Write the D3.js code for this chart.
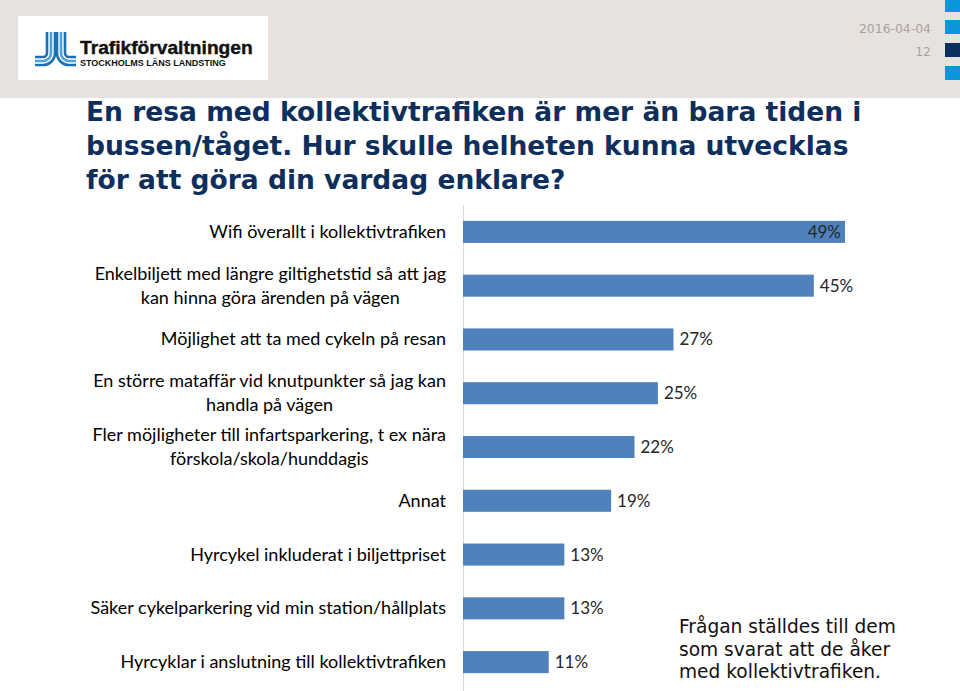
<!DOCTYPE html>
<html><head><meta charset="utf-8">
<script src="https://cdn.jsdelivr.net/npm/d3@7"></script>
<style>body{margin:0;background:#fff;}svg{display:block;}</style>
</head><body>
<svg id="c" width="960" height="691"></svg>
<script>
const categories = [
  ["Wifi överallt i kollektivtrafiken"],
  ["Enkelbiljett med längre giltighetstid så att jag", "kan hinna göra ärenden på vägen"],
  ["Möjlighet att ta med cykeln på resan"],
  ["En större mataffär vid knutpunkter så jag kan", "handla på vägen"],
  ["Fler möjligheter till infartsparkering, t ex nära", "förskola/skola/hunddagis"],
  ["Annat"],
  ["Hyrcykel inkluderat i biljettpriset"],
  ["Säker cykelparkering vid min station/hållplats"],
  ["Hyrcyklar i anslutning till kollektivtrafiken"]
];
const values = [49, 45, 27, 25, 22, 19, 13, 13, 11];
const titleLines = ["En resa med kollektivtrafiken är mer än bara tiden i", "bussen/tåget. Hur skulle helheten kunna utvecklas", "för att göra din vardag enklare?"];
const noteLines = ["Frågan ställdes till dem", "som svarat att de åker", "med kollektivtrafiken."];
const dateText = "2016-04-04";
const pageText = "12";

const svg = d3.select("#c");
// header band
svg.append("rect").attr("x",0).attr("y",0).attr("width",960).attr("height",98).attr("fill","#e8e2de");
// right squares
[[0,12,"#0a98dc"],[20,34,"#0a98dc"],[43,57,"#0b2f5e"],[66,80,"#0a98dc"]].forEach(d=>{
  svg.append("rect").attr("x",945).attr("y",d[0]).attr("width",15).attr("height",d[1]-d[0]).attr("fill",d[2]);
});
svg.append("text").attr("x",931).attr("y",33).attr("text-anchor","end").attr("font-family","DejaVu Sans").attr("font-size",12.4).attr("fill","#a8a39f").text(dateText);
svg.append("text").attr("x",931).attr("y",56).attr("text-anchor","end").attr("font-family","DejaVu Sans").attr("font-size",12.4).attr("fill","#a8a39f").text(pageText);

// logo
const logo = svg.append("g");
logo.append("rect").attr("x",18).attr("y",16).attr("width",250).attr("height",64).attr("fill","#fff");
const stripeCols = ["#1a6fb5","#4aa3dd","#1a6fb5"];
[47,51,55].forEach((xv,i)=>{
  const cx = 43, cy = 53, r = xv - cx;
  logo.append("path").attr("d",`M${xv},32 L${xv},${cy} A${r},${r} 0 0 1 ${cx},${cy+r} L35,${cy+r}`)
    .attr("fill","none").attr("stroke",stripeCols[i]).attr("stroke-width",2.6);
});
[65,61,57].forEach((xv,i)=>{
  const cx = 69, cy = 53, r = cx - xv;
  logo.append("path").attr("d",`M${xv},32 L${xv},${cy} A${r},${r} 0 0 0 ${cx},${cy+r} L76,${cy+r}`)
    .attr("fill","none").attr("stroke",stripeCols[i]).attr("stroke-width",2.6);
});
logo.append("text").attr("x",80).attr("y",54).attr("font-family","Liberation Sans").attr("font-weight","bold").attr("font-size",19.2).attr("fill","#111").attr("stroke","#111").attr("stroke-width",0.4).text("Trafikförvaltningen");
logo.append("text").attr("x",80).attr("y",65.5).attr("font-family","Liberation Sans").attr("font-weight","bold").attr("font-size",9).attr("fill","#111").text("STOCKHOLMS LÄNS LANDSTING");

// title
const title = svg.append("text").attr("font-family","DejaVu Sans").attr("font-weight","bold").attr("font-size",26).attr("fill","#0e2e5c");
titleLines.forEach((t,i)=>{
  title.append("tspan").attr("x",86).attr("y",121+i*34).text(t);
});
const t0 = title.select("tspan").node().getComputedTextLength();
title.attr("font-size", 26*776/t0);

// chart
const x = d3.scaleLinear().domain([0, 49]).range([463, 845]);
const y = d3.scaleBand().domain(d3.range(values.length)).range([205, 689]).paddingInner(0.59).paddingOuter(0.295);

svg.append("line").attr("x1",463.5).attr("x2",463.5).attr("y1",205).attr("y2",691).attr("stroke","#d9d9d9").attr("stroke-width",1);

svg.selectAll("rect.bar").data(values).join("rect").attr("class","bar")
  .attr("x",x(0)).attr("y",(d,i)=>y(i)).attr("width",d=>x(d)-x(0)).attr("height",y.bandwidth())
  .attr("fill","#4f81bd");

const labFont = "Lato, 'Open Sans', sans-serif";
svg.selectAll("text.val").data(values).join("text").attr("class","val")
  .attr("font-family",labFont).attr("font-size",17).attr("fill","#262626")
  .attr("x",(d,i)=> i===0 ? x(d)-4 : x(d)+6)
  .attr("text-anchor",(d,i)=> i===0 ? "end" : "start")
  .attr("y",(d,i)=>y(i)+y.bandwidth()/2+6)
  .text(d=>d+"%");

// category labels
categories.forEach((lines,i)=>{
  const cy = y(i)+y.bandwidth()/2;
  const g = svg.append("text").attr("font-family",labFont).attr("font-size",18).attr("fill","#000").attr("text-anchor","middle");
  const tsp = lines.map((l,j)=> g.append("tspan").attr("y", cy + 6 + (j - (lines.length-1)/2)*24).text(l));
  const w = d3.max(tsp, t=>t.node().getComputedTextLength());
  tsp.forEach(t=>t.attr("x", 446 - w/2));
});

// note
const note = svg.append("text").attr("font-family","DejaVu Sans").attr("font-size",18.6).attr("fill","#111");
noteLines.forEach((t,i)=> note.append("tspan").attr("x",679).attr("y",633+i*22.5).text(t));
</script>
</body></html>
